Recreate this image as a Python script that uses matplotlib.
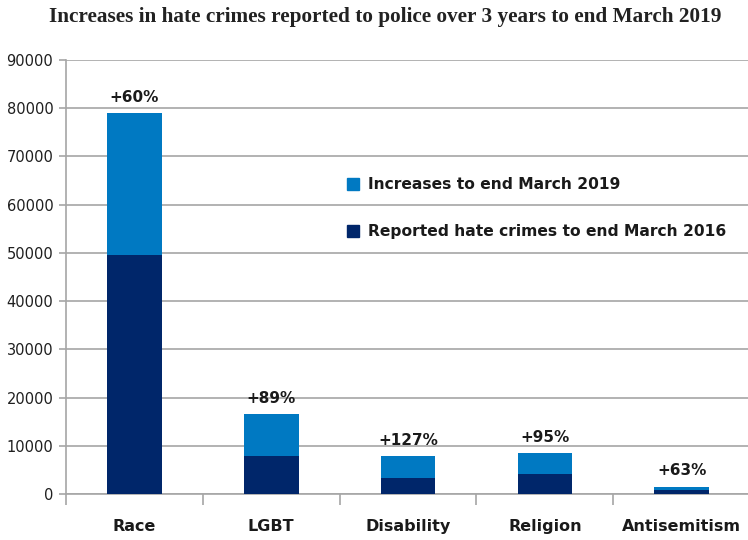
import matplotlib
matplotlib.use("Agg")
import matplotlib.pyplot as plt
import numpy as np

categories = ["Race", "LGBT", "Disability", "Religion", "Antisemitism"]
reported_2016 = [49500, 7900, 3300, 4200, 950]
total_2019 = [78900, 16600, 7900, 8500, 1560]
increase_labels = ["+60%", "+89%", "+127%", "+95%", "+63%"]
yticks = list(range(0, 90001, 10000))

increases = [t - b for t, b in zip(total_2019, reported_2016)]

light_blue = "#0079C2"
navy = "#00266A"
grid_grey = "#A6A6A6"
text_col = "#1a1a1a"

fig = plt.figure(figsize=(7.48, 5.40), dpi=100)
ax = fig.add_axes([0.088, 0.085, 0.915, 0.804])

x = np.arange(len(categories))
ax.bar(x, reported_2016, width=0.4, color=navy, zorder=3)
ax.bar(x, increases, width=0.4, bottom=reported_2016, color=light_blue, zorder=3)

for xi, top, lab in zip(x, total_2019, increase_labels):
    ax.annotate(lab, (xi, top), xytext=(0, 6), textcoords="offset points",
                ha="center", va="bottom", fontsize=11, fontweight="bold",
                color=text_col, family="DejaVu Sans")

ax.set_xlim(-0.5, len(categories) - 0.5)
ax.set_ylim(0, 90000)
ax.set_yticks(yticks)
ax.set_yticklabels([str(v) for v in yticks], fontsize=10.5, color="#1f1f1f")
ax.yaxis.grid(True, color=grid_grey, linewidth=1.2, zorder=0)
ax.set_axisbelow(True)

# category labels centred on bars, ticks on category boundaries
ax.set_xticks(x)
ax.set_xticklabels(categories, fontsize=11.5, fontweight="bold", color=text_col)
ax.tick_params(axis="x", length=0, pad=18)
ax.set_xticks(np.arange(-0.5, len(categories), 1.0), minor=True)
ax.tick_params(axis="x", which="minor", length=8, color=grid_grey, width=1.2)
ax.tick_params(axis="y", length=5, color=grid_grey, width=1.2, pad=4)

for side in ["top", "right"]:
    ax.spines[side].set_visible(False)
for side in ["left", "bottom"]:
    ax.spines[side].set_color(grid_grey)
    ax.spines[side].set_linewidth(1.2)

# legend entries drawn as square markers with bold text
legend_items = [("Increases to end March 2019", light_blue, 64200),
                ("Reported hate crimes to end March 2016", navy, 54500)]
for text, col, yv in legend_items:
    ax.plot([1.60], [yv], marker="s", markersize=8, color=col,
            clip_on=False, zorder=4)
    ax.text(1.71, yv, text, fontsize=11.2, fontweight="bold", color=text_col,
            va="center", ha="left")

fig.text(0.515, 0.968, "Increases in hate crimes reported to police over 3 years to end March 2019",
         ha="center", va="center", fontsize=15.3, fontweight="bold",
         family="Liberation Serif", color="#222222")

fig.savefig("out.png", dpi=100)
